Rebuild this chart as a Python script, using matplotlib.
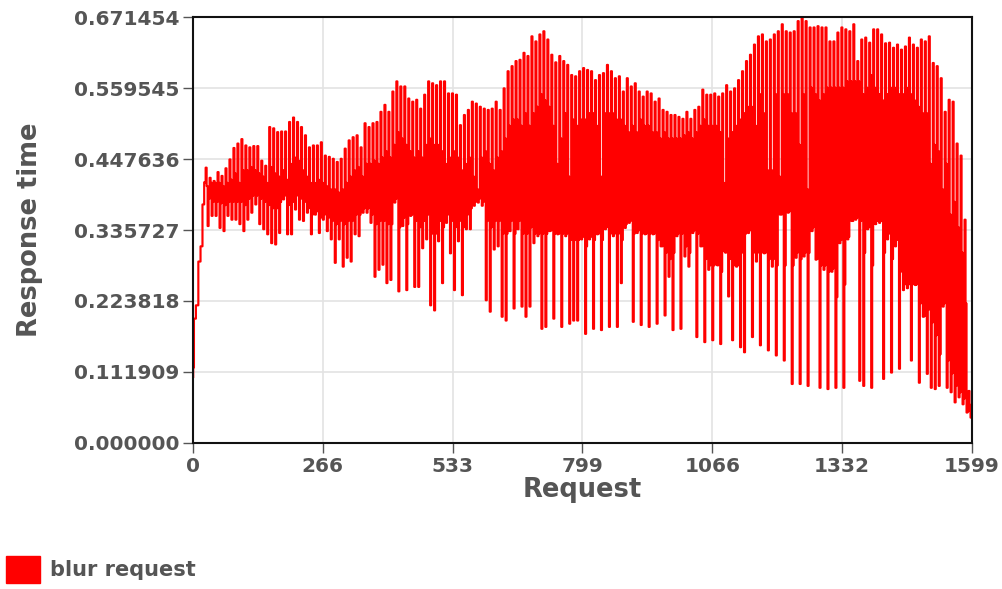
import numpy as np
import matplotlib
matplotlib.use('Agg')
import matplotlib.pyplot as plt
from matplotlib.patches import Patch

plt.rcParams['path.simplify'] = False

# warm-up at the start of the run
ramp_req = [0, 1, 3, 9, 13, 18, 21, 25]
ramp_rt = [0.103, 0.119, 0.196, 0.217, 0.286, 0.310, 0.376, 0.411]

# each burst after warm-up: peak, upper settle, trough, lower settle
peak_rt = [
    0.434, 0.418, 0.413, 0.427, 0.421, 0.433, 0.447, 0.465, 0.472, 0.479, 0.469, 0.466, 0.468,
    0.468, 0.445, 0.437, 0.498, 0.496, 0.490, 0.491, 0.491, 0.506, 0.513, 0.506, 0.498,
    0.485, 0.466, 0.469, 0.469, 0.474, 0.453, 0.451, 0.448, 0.443, 0.448, 0.464, 0.477, 0.482,
    0.485, 0.466, 0.504, 0.498, 0.504, 0.506, 0.522, 0.533, 0.522, 0.554, 0.570, 0.562, 0.562,
    0.543, 0.538,
    0.541, 0.527, 0.549, 0.570, 0.567, 0.564, 0.570, 0.570, 0.551, 0.551, 0.549, 0.501, 0.517,
    0.525, 0.538, 0.535, 0.530, 0.527, 0.525, 0.527, 0.538, 0.525, 0.559, 0.586, 0.594, 0.602,
    0.604, 0.615,
    0.610, 0.641, 0.633, 0.644, 0.649, 0.636, 0.612, 0.600, 0.610, 0.602, 0.596, 0.580, 0.578,
    0.586, 0.591, 0.588, 0.586, 0.572, 0.580, 0.583, 0.596, 0.586, 0.575, 0.578, 0.554, 0.575,
    0.562, 0.567,
    0.554, 0.546, 0.554, 0.551, 0.538, 0.543, 0.525, 0.522, 0.517, 0.517, 0.514, 0.511, 0.522,
    0.511, 0.525, 0.530, 0.557, 0.549, 0.549, 0.551, 0.546, 0.551, 0.564, 0.554, 0.559, 0.572,
    0.586, 0.602,
    0.612, 0.628, 0.641, 0.644, 0.633, 0.636, 0.644, 0.649, 0.660, 0.649, 0.647, 0.649, 0.665,
    0.671, 0.665, 0.655, 0.655, 0.657, 0.655, 0.655, 0.633, 0.633, 0.647, 0.655, 0.652, 0.649,
    0.660, 0.602,
    0.636, 0.639, 0.631, 0.652, 0.652, 0.644, 0.630, 0.631, 0.623, 0.628, 0.620, 0.625, 0.639,
    0.628, 0.623, 0.636, 0.633, 0.641, 0.599, 0.594, 0.575, 0.522, 0.541, 0.538, 0.472, 0.453,
    0.352, 0.082,
]
upper_rt = [
    0.405, 0.410, 0.410, 0.410, 0.405, 0.410, 0.415, 0.425, 0.410, 0.430, 0.430, 0.435, 0.430,
    0.425, 0.420, 0.410, 0.435, 0.425, 0.420, 0.430, 0.415, 0.440, 0.450, 0.445, 0.430,
    0.420, 0.410, 0.410, 0.415, 0.410, 0.405, 0.400, 0.400, 0.395, 0.400, 0.410, 0.420, 0.430,
    0.435, 0.420, 0.440, 0.440, 0.445, 0.440, 0.450, 0.460, 0.450, 0.470, 0.490, 0.480, 0.470,
    0.460, 0.450,
    0.460, 0.450, 0.470, 0.480, 0.470, 0.470, 0.460, 0.440, 0.450, 0.460, 0.450, 0.430, 0.440,
    0.450, 0.420, 0.400, 0.450, 0.460, 0.440, 0.430, 0.450, 0.460, 0.480, 0.500, 0.510, 0.510,
    0.500, 0.520,
    0.500, 0.520, 0.530, 0.550, 0.540, 0.530, 0.500, 0.440, 0.480, 0.520, 0.420, 0.510, 0.500,
    0.510, 0.510, 0.520, 0.520, 0.500, 0.420, 0.520, 0.520, 0.520, 0.510, 0.510, 0.500, 0.490,
    0.500, 0.490,
    0.510, 0.500, 0.500, 0.490, 0.490, 0.480, 0.490, 0.480, 0.480, 0.480, 0.480, 0.485, 0.490,
    0.480, 0.490, 0.500, 0.510, 0.500, 0.500, 0.500, 0.490, 0.410, 0.480, 0.490, 0.500, 0.510,
    0.520, 0.530,
    0.530, 0.500, 0.550, 0.520, 0.430, 0.430, 0.550, 0.420, 0.550, 0.550, 0.520, 0.520, 0.470,
    0.550, 0.400, 0.560, 0.550, 0.540, 0.550, 0.560, 0.560, 0.560, 0.560, 0.560, 0.570, 0.570,
    0.570, 0.570,
    0.550, 0.560, 0.580, 0.560, 0.550, 0.540, 0.550, 0.560, 0.560, 0.550, 0.550, 0.560, 0.550,
    0.540, 0.530, 0.520, 0.520, 0.440, 0.470, 0.460, 0.400, 0.440, 0.360, 0.380, 0.340, 0.300,
    0.220, 0.060,
]
trough_rt = [
    0.342, 0.358, 0.358, 0.339, 0.334, 0.358, 0.352, 0.352, 0.345, 0.334, 0.352, 0.363, 0.376,
    0.345, 0.337, 0.329, 0.315, 0.313, 0.331, 0.384, 0.329, 0.329, 0.368, 0.352, 0.350,
    0.363, 0.329, 0.360, 0.331, 0.352, 0.334, 0.321, 0.284, 0.321, 0.278, 0.292, 0.286, 0.329,
    0.326, 0.363, 0.363, 0.347, 0.262, 0.273, 0.281, 0.252, 0.257, 0.379, 0.239, 0.342, 0.241,
    0.358, 0.246,
    0.246, 0.307, 0.321, 0.217, 0.209, 0.318, 0.252, 0.347, 0.299, 0.241, 0.318, 0.233, 0.337,
    0.337, 0.374, 0.379, 0.374, 0.225, 0.207, 0.305, 0.310, 0.199, 0.193, 0.334, 0.212, 0.337,
    0.215, 0.199,
    0.215, 0.315, 0.326, 0.180, 0.183, 0.334, 0.196, 0.329, 0.183, 0.326, 0.188, 0.193, 0.193,
    0.321, 0.172, 0.321, 0.180, 0.329, 0.178, 0.337, 0.183, 0.326, 0.183, 0.252, 0.339, 0.347,
    0.191, 0.331,
    0.186, 0.329, 0.183, 0.329, 0.188, 0.310, 0.201, 0.262, 0.178, 0.326, 0.180, 0.294, 0.278,
    0.331, 0.167, 0.310, 0.159, 0.273, 0.162, 0.281, 0.156, 0.302, 0.231, 0.162, 0.278, 0.151,
    0.143, 0.331,
    0.167, 0.286, 0.154, 0.299, 0.146, 0.278, 0.138, 0.360, 0.130, 0.363, 0.093, 0.292, 0.093,
    0.294, 0.090, 0.334, 0.289, 0.087, 0.273, 0.085, 0.270, 0.087, 0.315, 0.087, 0.321, 0.350,
    0.352, 0.098,
    0.090, 0.337, 0.087, 0.345, 0.347, 0.101, 0.321, 0.111, 0.310, 0.117, 0.241, 0.244, 0.130,
    0.249, 0.095, 0.199, 0.109, 0.087, 0.085, 0.090, 0.215, 0.087, 0.080, 0.064, 0.072, 0.061,
    0.048, 0.040,
]
lower_rt = [
    0.385, 0.380, 0.380, 0.378, 0.375, 0.380, 0.380, 0.380, 0.380, 0.375, 0.385, 0.390, 0.390,
    0.385, 0.380, 0.375, 0.370, 0.370, 0.380, 0.390, 0.375, 0.380, 0.390, 0.385, 0.380,
    0.370, 0.360, 0.365, 0.355, 0.360, 0.355, 0.350, 0.345, 0.350, 0.345, 0.350, 0.350, 0.360,
    0.360, 0.370, 0.370, 0.360, 0.345, 0.350, 0.350, 0.345, 0.345, 0.385, 0.340, 0.355, 0.345,
    0.360, 0.350,
    0.340, 0.350, 0.360, 0.330, 0.330, 0.350, 0.340, 0.360, 0.350, 0.340, 0.350, 0.340, 0.360,
    0.370, 0.380, 0.385, 0.380, 0.350, 0.340, 0.350, 0.350, 0.330, 0.330, 0.350, 0.330, 0.350,
    0.330, 0.330,
    0.340, 0.330, 0.330, 0.330, 0.330, 0.335, 0.330, 0.330, 0.330, 0.330, 0.320, 0.320, 0.320,
    0.325, 0.310, 0.325, 0.320, 0.330, 0.320, 0.340, 0.330, 0.330, 0.330, 0.320, 0.345, 0.350,
    0.330, 0.335,
    0.330, 0.330, 0.330, 0.330, 0.320, 0.310, 0.300, 0.290, 0.300, 0.330, 0.330, 0.310, 0.300,
    0.335, 0.330, 0.310, 0.290, 0.280, 0.280, 0.280, 0.270, 0.300, 0.290, 0.280, 0.280, 0.300,
    0.330, 0.335,
    0.300, 0.300, 0.300, 0.300, 0.290, 0.290, 0.280, 0.360, 0.280, 0.365, 0.280, 0.300, 0.290,
    0.300, 0.300, 0.340, 0.290, 0.280, 0.280, 0.270, 0.275, 0.230, 0.320, 0.250, 0.325, 0.350,
    0.355, 0.350,
    0.300, 0.340, 0.280, 0.350, 0.350, 0.300, 0.330, 0.290, 0.320, 0.270, 0.250, 0.250, 0.250,
    0.250, 0.220, 0.200, 0.210, 0.190, 0.170, 0.140, 0.220, 0.130, 0.110, 0.090, 0.080, 0.070,
    0.050, 0.045,
]

x_ticklabels = ['0', '266', '533', '799', '1066', '1332', '1599']
y_ticklabels = ['0.000000', '0.111909', '0.223818', '0.335727', '0.447636', '0.559545', '0.671454']
n_requests = 1599
rt_max = 0.671454

# bursts follow the warm-up, one request slot per value
burst_rt = np.ravel(np.column_stack([peak_rt, upper_rt, trough_rt, lower_rt]))
burst_req = np.linspace(ramp_req[-1] + 2, n_requests, len(burst_rt))
req = np.concatenate([ramp_req, burst_req])
rt = np.concatenate([ramp_rt, burst_rt])

grey = '#555555'
fig = plt.figure(figsize=(10.03, 5.89), dpi=100)
fig.subplots_adjust(left=0.1924, right=0.9691, top=0.9711, bottom=0.2479)
sub = fig.add_subplot(1, 1, 1)

sub.plot(req, rt, c='#ff0000', lw=1.55, drawstyle='steps-mid')

sub.set_xlim(0, n_requests)
sub.set_ylim(0, rt_max)
sub.set_xticks(np.linspace(0, n_requests, 7))
sub.set_xticklabels(x_ticklabels)
sub.set_yticks(np.linspace(0, rt_max, 7))
sub.set_yticklabels(y_ticklabels)
sub.grid(True, color='#e3e3e3', lw=1.2)
sub.set_axisbelow(True)
sub.tick_params(length=7, width=1, color=grey, labelcolor=grey, labelsize=14.5, pad=3)
for lab in sub.get_xticklabels() + sub.get_yticklabels():
    lab.set_fontweight('bold')
for sp in sub.spines.values():
    sp.set_linewidth(1.5)
    sp.set_color('#111111')

sub.set_xlabel('Request', fontsize=18.5, fontweight='bold', color=grey, labelpad=1)
sub.set_ylabel('Response time', fontsize=18.5, fontweight='bold', color=grey, labelpad=22)

fig.legend(handles=[Patch(color='#ff0000', label='blur request')], loc='lower left',
           bbox_to_anchor=(0.0, 0.0), frameon=False, handlelength=1.6, handleheight=1.6,
           handletextpad=0.5, borderaxespad=0.0, borderpad=0.3,
           prop={'size': 15, 'weight': 'bold'}, labelcolor=grey)

fig.savefig('out.png', dpi=100)
